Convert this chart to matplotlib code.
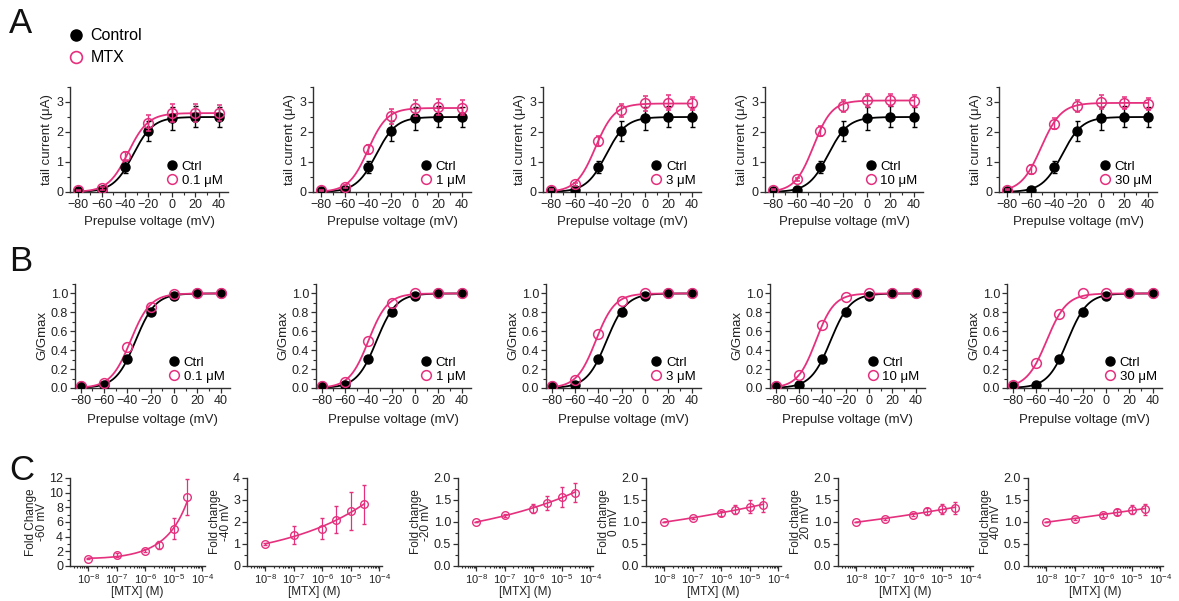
import numpy as np
import matplotlib
matplotlib.use('Agg')
import matplotlib.pyplot as plt
from matplotlib.lines import Line2D
from matplotlib.ticker import MultipleLocator, LogLocator, NullFormatter, FormatStrFormatter

plt.rcParams['font.family'] = ['Liberation Sans', 'DejaVu Sans']
plt.rcParams['axes.linewidth'] = 1.0

# ---------------- data ----------------
voltages = [-80, -60, -40, -20, 0, 20, 40]
mtx_labels = ['0.1 μM', '1 μM', '3 μM', '10 μM', '30 μM']

# Row A: tail current (uA)
ctrl_current = [0.03, 0.08, 0.82, 2.03, 2.45, 2.50, 2.50]
ctrl_current_err = [0.02, 0.05, 0.20, 0.32, 0.38, 0.35, 0.33]
mtx01_current = [0.05, 0.12, 1.20, 2.30, 2.62, 2.62, 2.62]
mtx1_current = [0.05, 0.17, 1.43, 2.52, 2.80, 2.82, 2.80]
mtx3_current = [0.07, 0.25, 1.70, 2.72, 2.95, 2.97, 2.95]
mtx10_current = [0.07, 0.42, 2.03, 2.88, 3.05, 3.05, 3.03]
mtx30_current = [0.08, 0.75, 2.27, 2.87, 3.00, 2.97, 2.93]
mtx01_current_err = [0.02, 0.04, 0.12, 0.28, 0.30, 0.30, 0.27]
mtx1_current_err = [0.02, 0.05, 0.15, 0.25, 0.28, 0.27, 0.25]
mtx3_current_err = [0.02, 0.05, 0.17, 0.22, 0.25, 0.25, 0.23]
mtx10_current_err = [0.02, 0.05, 0.17, 0.20, 0.22, 0.20, 0.20]
mtx30_current_err = [0.02, 0.14, 0.18, 0.20, 0.22, 0.20, 0.20]

# Row B: normalized conductance
ctrl_gnorm = [0.02, 0.03, 0.31, 0.80, 0.97, 1.00, 1.00]
ctrl_gnorm_err = [0.01, 0.01, 0.03, 0.02, 0.02, 0.01, 0.01]
mtx01_gnorm = [0.02, 0.05, 0.43, 0.86, 0.99, 1.00, 1.00]
mtx1_gnorm = [0.02, 0.06, 0.50, 0.90, 1.00, 1.00, 1.00]
mtx3_gnorm = [0.02, 0.08, 0.57, 0.92, 1.00, 1.00, 1.00]
mtx10_gnorm = [0.02, 0.14, 0.67, 0.96, 1.00, 1.00, 1.00]
mtx30_gnorm = [0.03, 0.26, 0.78, 1.00, 1.00, 1.00, 1.00]

# Boltzmann fit parameters
ctrl_fit = dict(gmax=2.50, vhalf=-33.0, k=8.5)
mtx_gmax = [2.63, 2.80, 2.95, 3.05, 2.97]
mtx_vhalf = [-37.3, -40.0, -42.3, -45.6, -51.0]
mtx_k = [8.5, 8.2, 8.2, 7.9, 8.6]

# Row C: fold change vs [MTX]
conc = [1e-8, 1e-7, 1e-6, 3e-6, 1e-5, 3e-5]
fold_labels = ['Fold Change\n-60 mV', 'Fold change\n-40 mV', 'Fold change\n-20 mV',
               'Fold change\n0 mV', 'Fold change\n20 mV', 'Fold change\n40 mV']
fold_m60 = [1.0, 1.5, 2.1, 2.9, 5.1, 9.4]
fold_m60_err = [0.05, 0.3, 0.25, 0.55, 1.4, 2.5]
fold_m40 = [1.0, 1.4, 1.7, 2.1, 2.5, 2.8]
fold_m40_err = [0.03, 0.4, 0.48, 0.62, 0.85, 0.9]
fold_m20 = [1.0, 1.15, 1.30, 1.44, 1.57, 1.67]
fold_m20_err = [0.01, 0.04, 0.10, 0.16, 0.22, 0.22]
fold_0 = [1.0, 1.09, 1.20, 1.28, 1.35, 1.39]
fold_0_err = [0.01, 0.03, 0.06, 0.10, 0.14, 0.16]
fold_20 = [1.0, 1.07, 1.17, 1.24, 1.30, 1.32]
fold_20_err = [0.01, 0.03, 0.04, 0.07, 0.12, 0.13]
fold_40 = [1.0, 1.07, 1.16, 1.23, 1.28, 1.29]
fold_40_err = [0.01, 0.03, 0.04, 0.07, 0.10, 0.12]

# ---------------- style ----------------
PINK = '#E5307E'
AXC = '#303030'
TXT = '#222222'
W, H = 1179, 601
fig = plt.figure(figsize=(W / 100, H / 100), dpi=100)


def px_axes(left, top, width, height):
    return fig.add_axes([left / W, 1 - (top + height) / H, width / W, height / H])


def style(ax, fs=9):
    for s in ['top', 'right']:
        ax.spines[s].set_visible(False)
    for s in ['left', 'bottom']:
        ax.spines[s].set_color(AXC)
    ax.tick_params(which='major', length=3.5, width=0.9, color=AXC, labelsize=fs,
                   labelcolor=TXT, pad=1.5)
    ax.tick_params(which='minor', length=2, width=0.8, color=AXC)


def boltz(v, vh, k):
    return 1.0 / (1.0 + np.exp((vh - v) / k))


vfine = np.linspace(voltages[0], voltages[-1], 300)
mtx_currents = [mtx01_current, mtx1_current, mtx3_current, mtx10_current, mtx30_current]
mtx_current_errs = [mtx01_current_err, mtx1_current_err, mtx3_current_err,
                    mtx10_current_err, mtx30_current_err]
mtx_gnorms = [mtx01_gnorm, mtx1_gnorm, mtx3_gnorm, mtx10_gnorm, mtx30_gnorm]


def legend(ax, lab):
    h = [Line2D([], [], marker='o', ls='none', color='black', ms=6.5),
         Line2D([], [], marker='o', ls='none', mfc='none', mec=PINK, mew=1.1, ms=7)]
    ax.legend(h, ['Ctrl', lab], loc='lower right', frameon=False, fontsize=9.5,
              handletextpad=0.25, labelspacing=0.15, borderaxespad=0.2,
              handlelength=1.0, borderpad=0.2)


# Row A
A_lefts = [70, 313, 543, 765, 999]
for i, left in enumerate(A_lefts):
    ax = px_axes(left, 87, 158, 105)
    style(ax)
    ax.plot(vfine, ctrl_fit['gmax'] * boltz(vfine, ctrl_fit['vhalf'], ctrl_fit['k']),
            color='black', lw=1.3, zorder=2)
    ax.plot(vfine, mtx_gmax[i] * boltz(vfine, mtx_vhalf[i], mtx_k[i]),
            color=PINK, lw=1.3, zorder=2)
    ax.errorbar(voltages, ctrl_current, yerr=ctrl_current_err, fmt='o', color='black',
                ms=6.5, capsize=1.8, elinewidth=1.0, capthick=1.0, zorder=3)
    ax.errorbar(voltages, mtx_currents[i], yerr=mtx_current_errs[i], fmt='o', color=PINK,
                mfc='none', mec=PINK, mew=1.1, ms=7, capsize=1.8, elinewidth=1.0,
                capthick=1.0, zorder=4)
    ax.set_xlim(-87, 48)
    ax.set_ylim(0, 3.5)
    ax.xaxis.set_major_locator(MultipleLocator(20))
    ax.xaxis.set_minor_locator(MultipleLocator(10))
    ax.yaxis.set_major_locator(MultipleLocator(1))
    ax.yaxis.set_minor_locator(MultipleLocator(0.5))
    ax.set_xlabel('Prepulse voltage (mV)', fontsize=9.5, color=TXT, labelpad=4)
    ax.set_ylabel('tail current (μA)', fontsize=9.5, color=TXT, labelpad=2)
    legend(ax, mtx_labels[i])

# Row B
B_lefts = [75, 316, 546, 770, 1007]
for i, left in enumerate(B_lefts):
    ax = px_axes(left, 284, 155, 104)
    style(ax)
    ax.plot(vfine, boltz(vfine, ctrl_fit['vhalf'], ctrl_fit['k']), color='black', lw=1.3,
            zorder=2)
    ax.plot(vfine, boltz(vfine, mtx_vhalf[i], mtx_k[i]), color=PINK, lw=1.3, zorder=2)
    ax.errorbar(voltages, ctrl_gnorm, yerr=ctrl_gnorm_err, fmt='o', color='black',
                ms=6.5, capsize=1.5, elinewidth=1.0, zorder=3)
    ax.plot(voltages, mtx_gnorms[i], 'o', mfc='none', mec=PINK, mew=1.1, ms=7, zorder=4)
    ax.set_xlim(-85, 48)
    ax.set_ylim(0, 1.1)
    ax.xaxis.set_major_locator(MultipleLocator(20))
    ax.xaxis.set_minor_locator(MultipleLocator(10))
    ax.yaxis.set_major_locator(MultipleLocator(0.2))
    ax.yaxis.set_minor_locator(MultipleLocator(0.1))
    ax.yaxis.set_major_formatter(FormatStrFormatter('%.1f'))
    ax.set_xlabel('Prepulse voltage (mV)', fontsize=9.5, color=TXT, labelpad=5)
    ax.set_ylabel('G/Gmax', fontsize=9.5, color=TXT, labelpad=2)
    legend(ax, mtx_labels[i])

# Row C
folds = [fold_m60, fold_m40, fold_m20, fold_0, fold_20, fold_40]
fold_errs = [fold_m60_err, fold_m40_err, fold_m20_err, fold_0_err, fold_20_err, fold_40_err]
C_lefts = [70, 247, 458, 646, 838, 1028]
ylims = [(0, 12), (0, 4), (0, 2), (0, 2), (0, 2), (0, 2)]
ymaj = [2, 1, 0.5, 0.5, 0.5, 0.5]
cfine = np.logspace(np.log10(conc[0]), np.log10(conc[-1]), 200)
for i, left in enumerate(C_lefts):
    ax = px_axes(left, 478, 135, 88)
    style(ax, fs=9)
    ax.set_xscale('log')
    coef = np.polyfit(np.log10(conc), np.log(folds[i]), 2)
    ax.plot(cfine, np.exp(np.polyval(coef, np.log10(cfine))), color=PINK, lw=1.2, zorder=2)
    ax.errorbar(conc, folds[i], yerr=fold_errs[i], fmt='o', color=PINK, mfc='none',
                mec=PINK, mew=1.0, ms=5.5, capsize=1.5, elinewidth=0.9, capthick=0.9,
                zorder=3)
    ax.set_xlim(10 ** -8.65, 10 ** -3.9)
    ax.set_ylim(*ylims[i])
    ax.xaxis.set_minor_locator(LogLocator(base=10, subs=np.arange(2, 10), numticks=20))
    ax.xaxis.set_minor_formatter(NullFormatter())
    ax.set_xticks([1e-8, 1e-7, 1e-6, 1e-5, 1e-4])
    ax.tick_params(axis='x', which='major', labelsize=8, pad=1)
    ax.tick_params(axis='x', which='minor', length=1.5)
    ax.yaxis.set_major_locator(MultipleLocator(ymaj[i]))
    ax.yaxis.set_minor_locator(MultipleLocator(ymaj[i] / 2))
    if ymaj[i] < 1:
        ax.yaxis.set_major_formatter(FormatStrFormatter('%.1f'))
    ax.set_xlabel('[MTX] (M)', fontsize=8.5, color=TXT, labelpad=0)
    ax.set_ylabel(fold_labels[i], fontsize=8.5, color=TXT, labelpad=1, linespacing=0.85)

# Top legend (Control / MTX)
h = [Line2D([], [], marker='o', ls='none', color='black', ms=8),
     Line2D([], [], marker='o', ls='none', mfc='none', mec=PINK, mew=1.2, ms=8.5)]
fig.legend(h, ['Control', 'MTX'], loc='upper left', bbox_to_anchor=(0.058, 0.953),
           frameon=False, fontsize=11.5, handlelength=1.0, handletextpad=0.4,
           labelspacing=0.45, borderpad=0, borderaxespad=0)

# Panel letters
fig.text(0.008, 0.988, 'A', fontsize=25, va='top', ha='left', color='#111111')
fig.text(0.008, 0.592, 'B', fontsize=25, va='top', ha='left', color='#111111')
fig.text(0.008, 0.245, 'C', fontsize=25, va='top', ha='left', color='#111111')

fig.savefig('out.png', dpi=100)
